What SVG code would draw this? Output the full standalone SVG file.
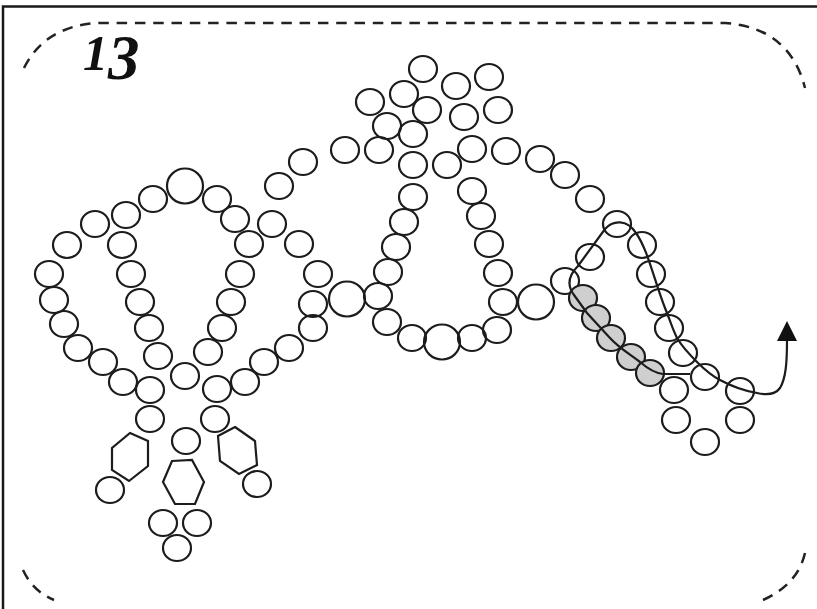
<svg xmlns="http://www.w3.org/2000/svg" width="817" height="609" viewBox="0 0 817 609">
<style>
ellipse,polygon{fill:none;stroke:#1c1c1c;stroke-width:2.200}
.g{fill:#cfcfcf}
.f{fill:none;stroke:#1c1c1c;stroke-width:2.200}
.d{fill:none;stroke:#222;stroke-width:2.500;stroke-dasharray:10.500 7.800}
</style>
<defs>
<ellipse id="c" rx="14" ry="13"/>
<ellipse id="b" rx="18" ry="17.5"/>
</defs>
<rect width="817" height="609" fill="#fff"/>
<path d="M3 609V6.500H817" fill="none" stroke="#1a1a1a" stroke-width="2.500"/>
<path class="d" d="M24 68C38 40 62 26 95 23H725C768 26 795 48 805 88"/>
<path class="d" d="M23 570C30 585 40 594 54 600"/>
<path class="d" d="M763 600C785 590 800 575 805 553"/>
<text x="83" y="70" font-family="'Liberation Serif',serif" font-size="50" font-style="italic" font-weight="bold" fill="#111">1<tspan dy="9" font-size="63">3</tspan></text>
<g id="beads">
<g fill="none">
<use href="#b" x="185" y="186"/><use href="#b" x="347" y="299"/><use href="#b" x="536" y="302"/><use href="#b" x="442" y="342"/>
<use href="#c" x="423" y="69"/><use href="#c" x="456" y="86"/><use href="#c" x="489" y="77"/><use href="#c" x="370" y="102"/><use href="#c" x="404" y="94"/><use href="#c" x="427" y="110"/><use href="#c" x="464" y="117"/><use href="#c" x="498" y="110"/><use href="#c" x="387" y="126"/><use href="#c" x="413" y="134"/><use href="#c" x="379" y="150"/><use href="#c" x="345" y="150"/><use href="#c" x="472" y="149"/><use href="#c" x="506" y="151"/><use href="#c" x="303" y="162"/><use href="#c" x="413" y="165"/><use href="#c" x="447" y="165"/><use href="#c" x="540" y="159"/><use href="#c" x="565" y="175"/><use href="#c" x="279" y="186"/><use href="#c" x="413" y="197"/><use href="#c" x="472" y="191"/><use href="#c" x="590" y="199"/><use href="#c" x="404" y="222"/><use href="#c" x="481" y="216"/><use href="#c" x="617" y="224"/><use href="#c" x="396" y="247"/><use href="#c" x="489" y="244"/><use href="#c" x="642" y="245"/><use href="#c" x="590" y="257"/><use href="#c" x="388" y="272"/><use href="#c" x="498" y="273"/><use href="#c" x="651" y="274"/><use href="#c" x="565" y="281"/><use href="#c" x="378" y="296"/><use href="#c" x="503" y="302"/><use href="#c" x="660" y="302"/><use href="#c" x="387" y="322"/><use href="#c" x="497" y="330"/><use href="#c" x="472" y="338"/><use href="#c" x="412" y="338"/><use href="#c" x="669" y="328"/><use href="#c" x="683" y="353"/><use href="#c" x="705" y="377"/><use href="#c" x="674" y="390"/><use href="#c" x="740" y="391"/><use href="#c" x="676" y="420"/><use href="#c" x="740" y="420"/><use href="#c" x="705" y="442"/>
<use href="#c" x="153" y="199"/><use href="#c" x="217" y="199"/><use href="#c" x="126" y="215"/><use href="#c" x="235" y="219"/><use href="#c" x="95" y="224"/><use href="#c" x="272" y="224"/><use href="#c" x="122" y="245"/><use href="#c" x="67" y="245"/><use href="#c" x="249" y="244"/><use href="#c" x="299" y="244"/><use href="#c" x="49" y="274"/><use href="#c" x="131" y="274"/><use href="#c" x="240" y="274"/><use href="#c" x="318" y="274"/><use href="#c" x="54" y="300"/><use href="#c" x="140" y="302"/><use href="#c" x="231" y="302"/><use href="#c" x="313" y="304"/><use href="#c" x="64" y="324"/><use href="#c" x="149" y="328"/><use href="#c" x="222" y="328"/><use href="#c" x="313" y="328"/><use href="#c" x="78" y="348"/><use href="#c" x="289" y="348"/><use href="#c" x="208" y="352"/><use href="#c" x="158" y="356"/><use href="#c" x="103" y="362"/><use href="#c" x="264" y="362"/><use href="#c" x="185" y="376"/><use href="#c" x="123" y="382"/><use href="#c" x="245" y="382"/><use href="#c" x="150" y="390"/><use href="#c" x="217" y="389"/><use href="#c" x="150" y="419"/><use href="#c" x="215" y="419"/><use href="#c" x="186" y="441"/><use href="#c" x="110" y="490"/><use href="#c" x="257" y="484"/><use href="#c" x="163" y="523"/><use href="#c" x="197" y="523"/><use href="#c" x="177" y="548"/>
</g>
<ellipse class="g" cx="583" cy="298" rx="14" ry="13"/><ellipse class="g" cx="596" cy="318" rx="14" ry="13"/><ellipse class="g" cx="611" cy="338" rx="14" ry="13"/><ellipse class="g" cx="631" cy="357" rx="14" ry="13"/><ellipse class="g" cx="650" cy="373" rx="14" ry="13"/>
<polygon points="130,433 148,441 148,466 129,481 112,470 112,448"/>
<polygon points="172,461 192,460 204,482 195,504 175,504 163,482"/>
<polygon points="235,427 255,441 257,465 239,474 220,461 218,436"/>
</g>
<g id="connectors">
<path class="f" d="M690 374H663C654 373 647 368 640 362C628 353 618 347 610 338L587 313L574 295C568 287 567 277 578 266L605 229C613 220 627 219 636 233C648 250 654 280 665 308C670 320 672 328 677 338C683 348 690 355 697 362C705 370 712 376 720 380C733 387 745 391 757 393C766 395 775 395 780 388C786 378 787 362 787 340"/>
<polygon points="787,321 777,341 797,341" style="fill:#111;stroke:none"/>
</g>
</svg>
